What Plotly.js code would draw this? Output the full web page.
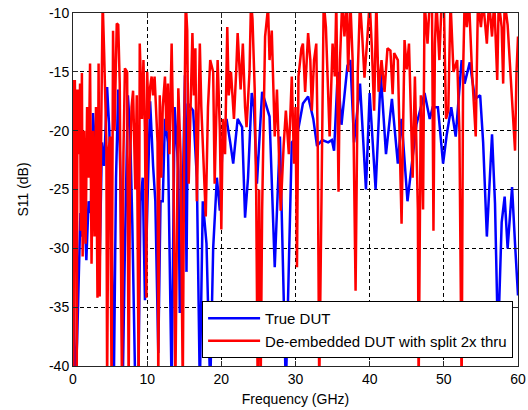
<!DOCTYPE html>
<html>
<head>
<meta charset="utf-8">
<script src="https://cdn.plot.ly/plotly-3.0.1.min.js"></script>
<style>
html,body{margin:0;padding:0;background:#fff;}
#chart{width:528px;height:410px;}
</style>
</head>
<body>
<div id="chart"></div>
<script>
// True DUT (blue) — frequency in GHz, S11 in dB
var blueFreq = [0.0,0.3,0.55,0.8,1.0,1.2,1.5,1.8,2.1,2.4,2.7,3.0,3.3,3.6,3.9,4.2,4.6,4.9,5.2,5.5,5.8,6.1,6.4,6.7,7.0,7.4,7.7,8.0,8.4,8.8,9.1,9.4,9.7,10.0,10.4,10.8,11.1,11.5,11.8,12.1,12.4,12.8,13.1,13.3,13.7,14.2,14.4,14.7,15.1,15.3,15.5,16.2,16.7,17.1,17.5,18.0,18.5,18.9,19.4,19.8,20.2,20.7,21.2,21.6,22.2,22.8,23.2,23.6,24.1,24.4,24.8,25.5,26.5,27.2,27.9,28.7,29.5,30.2,31.0,31.7,32.4,32.9,33.6,34.4,34.9,35.2,35.7,36.2,37.0,37.4,37.9,38.7,39.5,40.0,40.8,41.5,42.2,43.0,43.8,44.3,45.1,46.3,47.4,48.1,48.5,49.2,49.9,50.4,51.0,51.6,52.4,52.8,53.5,54.2,54.9,55.3,55.8,56.5,56.9,57.3,57.8,58.2,58.6,59.2,59.6,60.0];
var blueS11 = [-32.5,-42,-38,-33,-27,-29,-25.5,-31,-26,-27,-18.5,-22,-27,-31,-21,-23,-16.3,-20,-28,-42,-24,-16.5,-24,-42,-30,-17,-20,-28,-42,-42,-26,-24,-34.4,-27,-17.5,-23,-26,-38.9,-26,-26,-19,-21,-33,-42,-18,-23.4,-35.5,-28.5,-15.3,-32,-17.7,-18.3,-24,-42,-26,-29.6,-42,-30,-24,-26.8,-20.5,-19,-21,-22.8,-19,-19.7,-27.4,-24,-16.8,-18,-24.5,-16.7,-18.8,-31.6,-20.5,-42,-21,-20.5,-17.7,-17.1,-19,-21.3,-20.8,-21,-20.8,-21.7,-15,-19.5,-14.5,-14,-21,-16,-25,-16.8,-25,-15.2,-22,-17.3,-22.8,-19,-26,-19.5,-16.8,-19,-18,-18,-22.8,-20.3,-18,-20.5,-14,-16,-14.2,-17.3,-17,-21,-29,-20.3,-26.2,-38,-27.8,-25.6,-30,-24.8,-29.6,-34];

// De-embedded DUT with split 2x thru (red)
var redFreq = [0.0,0.05,0.15,0.25,0.4,0.5,0.6,0.8,0.95,1.05,1.2,1.3,1.5,1.7,1.9,2.1,2.3,2.5,2.7,2.9,3.1,3.3,3.45,3.6,3.8,4.0,4.2,4.5,4.6,4.8,5.0,5.1,5.2,5.4,5.6,5.9,6.1,6.3,6.6,6.8,7.0,7.3,7.5,7.7,7.9,8.1,8.4,8.6,8.85,9.0,9.3,9.5,9.7,9.9,10.0,10.2,10.4,10.6,10.8,11.0,11.4,11.5,11.7,11.9,12.1,12.4,12.6,12.8,13.0,13.3,13.5,13.8,14.0,14.2,14.5,14.8,15.0,15.2,15.4,15.6,16.1,16.3,16.5,16.7,17.1,17.3,17.9,18.2,18.5,18.9,19.1,19.5,19.8,20.0,20.2,20.5,20.8,21.0,21.3,21.7,22.0,22.2,22.6,22.9,23.2,23.4,23.8,24.0,24.2,24.5,24.7,24.9,25.1,25.3,25.5,25.9,26.3,26.5,26.8,27.2,27.5,27.8,28.0,28.4,28.7,29.1,29.5,29.8,30.0,30.2,30.4,30.8,31.0,31.3,31.7,32.0,32.2,32.5,32.8,33.0,33.2,33.5,33.8,34.1,34.3,34.6,35.0,35.3,35.5,35.8,36.0,36.3,36.6,36.9,37.1,37.4,37.7,38.1,38.4,38.7,39.0,39.3,39.7,40.0,40.3,40.6,40.9,41.2,41.6,42.0,42.4,42.8,43.1,43.3,43.8,44.3,44.7,45.0,45.3,45.8,46.1,46.5,46.6,46.9,47.2,47.4,47.8,48.1,48.4,48.6,48.8,49.0,49.4,49.7,50.0,50.3,50.6,50.9,51.3,51.8,52.1,52.4,52.6,52.8,53.1,53.4,53.8,54.3,54.6,55.0,55.3,55.8,56.1,56.5,56.8,57.2,57.4,57.8,58.0,58.2,58.6,59.0,59.2,59.6,59.8,60.0];
var redS11 = [-15.7,-42,-24,-15.7,-24,-42,-16.5,-22,-16,-28.5,-15.1,-30.7,-20,-29.6,-18,-24,-14.3,-31.3,-20,-29,-18,-34.2,-14.3,-34.1,-20,-9,-13.4,-21,-42,-21.7,-20.5,-42,-42,-11.5,-20,-10.9,-11,-16,-42,-22,-14.7,-15,-42,-22.5,-18,-16.6,-25,-17,-42,-12.6,-19,-14,-20,-34.2,-15,-19,-16.3,-15.4,-17,-15.4,-21,-42,-17,-24,-18,-15.4,-20,-16,-22,-12.6,-20,-42,-25,-16.4,-22,-42,-20,-9,-11.5,-24.5,-11.7,-17,-13,-26,-12.6,-18,-27.3,-18,-14,-15,-24.5,-14,-20,-28.4,-19,-22,-11.2,-17,-15,-19,-15,-11.7,-16.5,-12.6,-18,-19.7,-15,-9,-10.5,-16.5,-25.3,-42,-25,-42,-26.8,-12,-9.5,-14,-11.5,-20.5,-16.5,-22,-26.8,-21.3,-18.3,-22,-15.4,-22.8,-18,-31.6,-15.4,-13,-12.6,-16.7,-11.7,-14,-18.3,-14,-12.6,-21.3,-42,-26,-9,-11.2,-15,-20.5,-12.6,-15.4,-9,-25.2,-14,-9,-12,-9,-15,-9,-14,-33.6,-15,-9,-12,-15.5,-12,-9,-13,-18.3,-9,-16.7,-14,-16.7,-13,-13.2,-16.9,-13.4,-14,-27.9,-12.3,-14.8,-12.6,-24,-15.4,-26.8,-42,-17,-26.7,-9,-12.6,-9,-9,-28.5,-12.6,-9,-14,-9,-9,-19,-18.3,-9,-15,-14,-20,-42,-15,-9,-11.2,-9,-15,-20.5,-9,-11.2,-9,-12.6,-9,-12,-9,-15.7,-9,-11.2,-16,-9,-11,-15,-17,-21.7,-15,-12];

var seriesNames = ['True DUT', 'De-embedded DUT with split 2x thru'];
var xTickVals = [0, 10, 20, 30, 40, 50, 60];
var yTickVals = [-40, -35, -30, -25, -20, -15, -10];

var font = 'Liberation Sans, Arial, sans-serif';

var traces = [
  {x: blueFreq, y: blueS11, type: 'scatter', mode: 'lines', name: seriesNames[0],
   line: {color: '#0000ff', width: 2.5}},
  {x: redFreq, y: redS11, type: 'scatter', mode: 'lines', name: seriesNames[1],
   line: {color: '#ff0000', width: 2.5}}
];

var axisCommon = {
  showline: true, linecolor: '#262626', linewidth: 1, mirror: 'allticks',
  ticks: 'inside', ticklen: 5, tickcolor: '#262626', tickwidth: 1,
  showgrid: true, gridcolor: '#000000', gridwidth: 1, griddash: '4px,3px',
  zeroline: false, tickfont: {family: font, size: 14, color: '#000'}
};

var layout = {
  width: 528, height: 410,
  paper_bgcolor: '#ffffff', plot_bgcolor: '#ffffff',
  margin: {l: 73, r: 10, t: 13, b: 44},
  showlegend: true,
  font: {family: font, size: 14, color: '#000'},
  xaxis: Object.assign({}, axisCommon, {
    range: [0, 60], tickvals: xTickVals, ticktext: xTickVals.map(String),
    title: {text: 'Frequency (GHz)', font: {family: font, size: 14, color: '#000'}, standoff: 8}
  }),
  yaxis: Object.assign({}, axisCommon, {
    range: [-40, -10], tickvals: yTickVals, ticktext: yTickVals.map(String),
    title: {text: 'S11 (dB)', font: {family: font, size: 14, color: '#000'}, standoff: 17}
  }),
  legend: {
    x: 0.989, y: 0.0227, xanchor: 'right', yanchor: 'bottom',
    bgcolor: '#ffffff', bordercolor: '#000000', borderwidth: 1,
    font: {family: font, size: 15, color: '#000'},
    itemwidth: 52, tracegroupgap: 0
  }
};

Plotly.newPlot('chart', traces, layout, {displayModeBar: false, staticPlot: true});
</script>
</body>
</html>
